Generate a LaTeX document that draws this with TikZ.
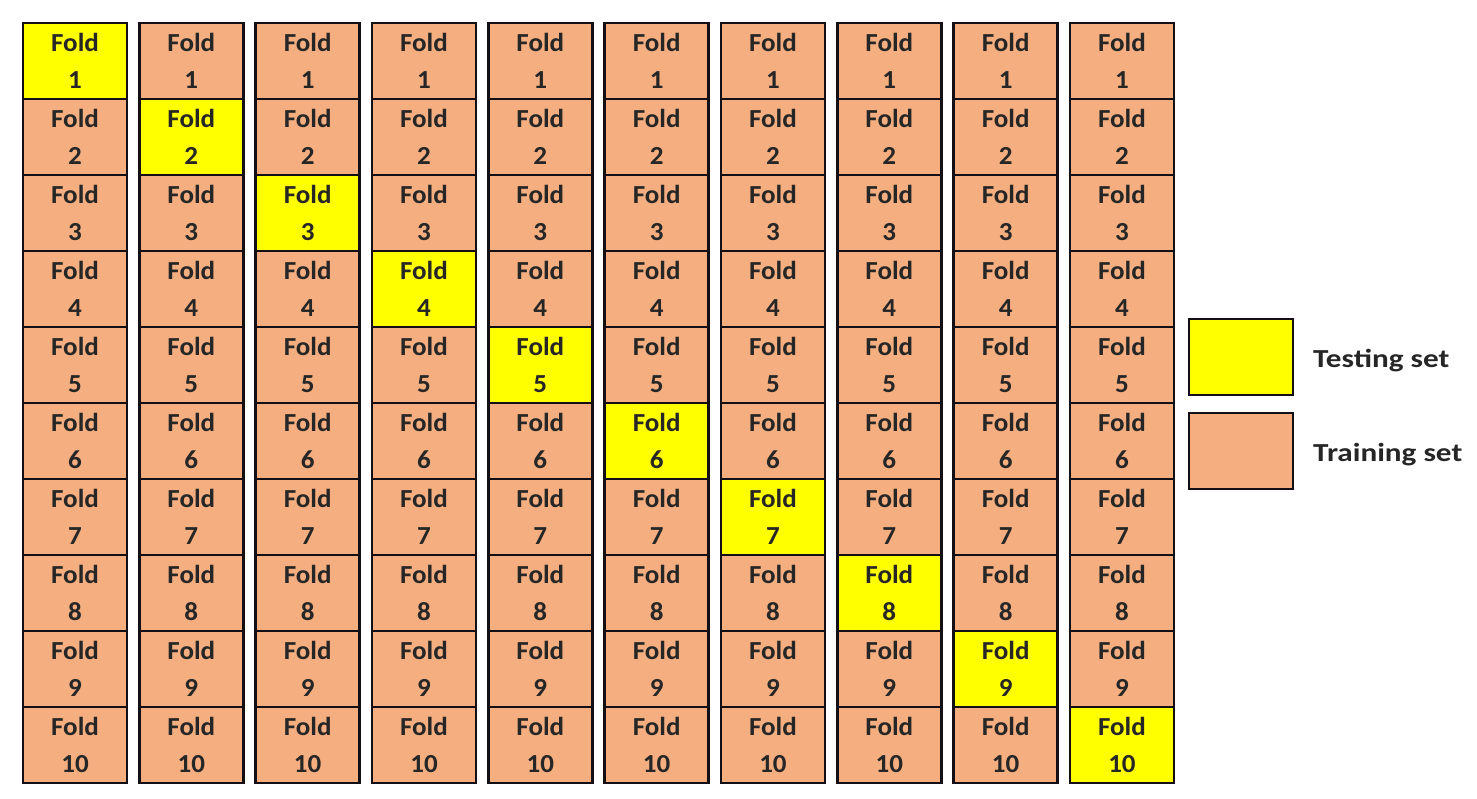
\documentclass[tikz,border=0pt]{standalone}
\usepackage{fontspec}
\setmainfont{Carlito}
\newfontfamily\legfont{Carlito}[FakeStretch=1.2]
\newfontfamily\cellfont{Carlito}[FakeStretch=1.04]
\definecolor{trainc}{RGB}{244,174,128}
\definecolor{testc}{RGB}{255,255,0}
\definecolor{linec}{RGB}{20,15,20}
\begin{document}
\begin{tikzpicture}[x=1pt,y=-1pt,
  cell/.style={draw=linec,line width=2.6pt,minimum width=104pt,minimum height=76pt,inner sep=0pt,
     align=center,font=\cellfont\fontsize{26}{37}\selectfont\bfseries,text=black!85},
  train/.style={cell,fill=trainc},
  test/.style={cell,fill=testc},
  lbl/.style={anchor=base west,inner sep=0pt,font=\legfont\fontsize{26}{30}\selectfont\bfseries,text=black!85}]
\useasboundingbox (0,0) rectangle (1477,799);
\foreach \i in {1,...,10}{
  \foreach \j in {1,...,10}{
    \pgfmathsetmacro{\cx}{23+52+(\i-1)*116.33}
    \pgfmathsetmacro{\cy}{23+38+(\j-1)*76}
    \ifnum\i=\j
      \node[test] (c-\i-\j) at (\cx,\cy) {Fold\\\j};
    \else
      \node[train] (c-\i-\j) at (\cx,\cy) {Fold\\\j};
    \fi
  }
}
\node[cell,fill=testc] (ltest) at (1241,357) {};
\node[cell,fill=trainc] (ltrain) at (1241,451) {};
\node[lbl] (ttest) at (1313,367) {Testing set};
\node[lbl] (ttrain) at (1313,461) {Training set};
\end{tikzpicture}
\end{document}
